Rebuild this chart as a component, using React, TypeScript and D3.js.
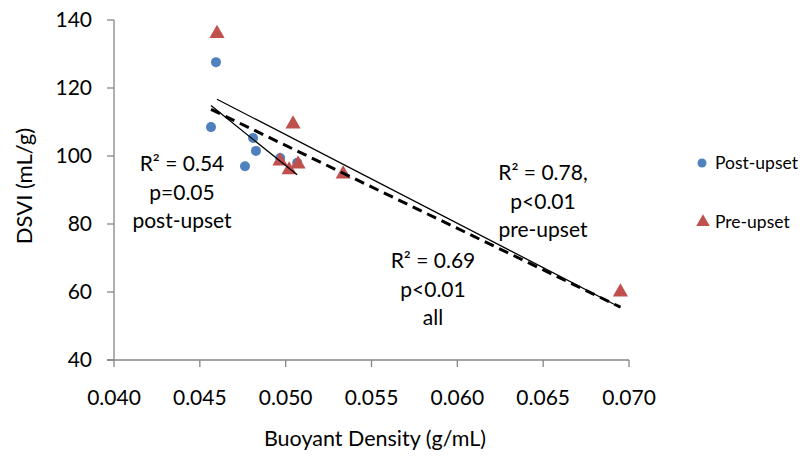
import { useEffect, useRef } from "react"
import * as d3 from 'd3'

// post-upset samples (blue circles)
const postX = [0.04594, 0.04565, 0.0481, 0.04827, 0.04763, 0.04968, 0.05067]
const postY = [127.6, 108.5, 105.3, 101.5, 97.0, 99.4, 98.0]
// pre-upset samples (red triangles)
const preX = [0.0460, 0.04967, 0.0502, 0.05072, 0.05043, 0.05335, 0.0695]
const preY = [136.0, 98.5, 95.9, 97.6, 109.4, 94.7, 60.0]

const xTicks = [0.040, 0.045, 0.050, 0.055, 0.060, 0.065, 0.070]
const yTicks = [40, 60, 80, 100, 120, 140]

const notePost = ["R\u00b2 = 0.54", "p=0.05", "post-upset"]
const notePre = ["R\u00b2 = 0.78,", "p<0.01", "pre-upset"]
const noteAll = ["R\u00b2 = 0.69", "p<0.01", "all"]

const blue = "#4F81BD"
const red = "#C0504D"
const font = "Lato, 'Open Sans', sans-serif"

// least squares line across the series' x range
const fit = (xs: number[], ys: number[]) => {
  const mx = d3.mean(xs) as number
  const my = d3.mean(ys) as number
  const sxy = d3.sum(xs, (x, i) => (x - mx) * (ys[i] - my))
  const sxx = d3.sum(xs, x => (x - mx) * (x - mx))
  const b = sxy / sxx
  const a = my - b * mx
  const [lo, hi] = d3.extent(xs) as [number, number]
  return [[lo, a + b * lo], [hi, a + b * hi]] as [number, number][]
}

export default function App() {
  const svgRef = useRef<SVGSVGElement>(null)

  useEffect(() => {
    document.body.style.margin = "0"
    const svg = d3.select(svgRef.current)
    svg.selectAll('*').remove()

    const xScale = d3.scaleLinear().domain([0.040, 0.070]).range([114, 629])
    const yScale = d3.scaleLinear().domain([40, 140]).range([360, 20])

    // axes
    svg.append("line")
      .attr("x1", xScale(0.040)).attr("x2", xScale(0.040))
      .attr("y1", yScale(140)).attr("y2", yScale(40))
      .attr("stroke", "#868686").attr("stroke-width", 1.3)
    svg.append("line")
      .attr("x1", xScale(0.040) - 7).attr("x2", xScale(0.070))
      .attr("y1", yScale(40)).attr("y2", yScale(40))
      .attr("stroke", "#868686").attr("stroke-width", 1.3)

    svg.selectAll(".yt").data(yTicks).enter().append("line")
      .attr("x1", xScale(0.040) - 7).attr("x2", xScale(0.040))
      .attr("y1", d => yScale(d)).attr("y2", d => yScale(d))
      .attr("stroke", "#868686").attr("stroke-width", 1.3)
    svg.selectAll(".yl").data(yTicks).enter().append("text")
      .attr("x", 92).attr("y", d => yScale(d) + 7)
      .attr("text-anchor", "end")
      .attr("font-family", font).attr("font-size", 21)
      .text(d => d)

    svg.selectAll(".xt").data(xTicks).enter().append("line")
      .attr("x1", d => xScale(d)).attr("x2", d => xScale(d))
      .attr("y1", yScale(40)).attr("y2", yScale(40) + 7)
      .attr("stroke", "#868686").attr("stroke-width", 1.3)
    svg.selectAll(".xl").data(xTicks).enter().append("text")
      .attr("x", d => xScale(d)).attr("y", 405)
      .attr("text-anchor", "middle")
      .attr("font-family", font).attr("font-size", 21)
      .text(d => d3.format(".3f")(d))

    svg.append("text")
      .attr("x", 375).attr("y", 446)
      .attr("text-anchor", "middle")
      .attr("font-family", font).attr("font-size", 21.5)
      .text("Buoyant Density (g/mL)")
    svg.append("text")
      .attr("transform", "translate(32,186) rotate(-90)")
      .attr("text-anchor", "middle")
      .attr("font-family", font).attr("font-size", 22)
      .text("DSVI (mL/g)")

    // markers
    svg.selectAll(".post").data(postX).enter().append("circle")
      .attr("cx", d => xScale(d)).attr("cy", (d, i) => yScale(postY[i]))
      .attr("r", 5).attr("fill", blue)
    const tri = d3.symbol().type(d3.symbolTriangle).size(100)
    svg.selectAll(".pre").data(preX).enter().append("path")
      .attr("d", tri)
      .attr("transform", (d, i) => `translate(${xScale(d)},${yScale(preY[i])})`)
      .attr("fill", red)

    // trendlines
    const line = d3.line<[number, number]>()
      .x(d => xScale(d[0])).y(d => yScale(d[1]))
    svg.append("path").attr("d", line(fit(postX, postY)))
      .attr("stroke", "#000").attr("stroke-width", 1.3).attr("fill", "none")
    svg.append("path").attr("d", line(fit(preX, preY)))
      .attr("stroke", "#000").attr("stroke-width", 1.3).attr("fill", "none")
    svg.append("path").attr("d", line(fit(postX.concat(preX), postY.concat(preY))))
      .attr("stroke", "#000").attr("stroke-width", 3).attr("fill", "none")
      .attr("stroke-dasharray", "10,6")

    // annotations
    const note = (lines: string[], x: number, y: number) => {
      lines.forEach((t, i) => {
        svg.append("text")
          .attr("x", x).attr("y", y + i * 28.5)
          .attr("text-anchor", "middle")
          .attr("font-family", font).attr("font-size", 21)
          .text(t)
      })
    }
    note(notePost, 182, 171)
    note(notePre, 543, 180)
    note(noteAll, 433, 268)

    // legend
    svg.append("circle").attr("cx", 702).attr("cy", 163).attr("r", 4.5).attr("fill", blue)
    svg.append("path").attr("d", d3.symbol().type(d3.symbolTriangle).size(80))
      .attr("transform", "translate(703,222)").attr("fill", red)
    svg.append("text").attr("x", 715).attr("y", 169)
      .attr("font-family", font).attr("font-size", 17.5).text("Post-upset")
    svg.append("text").attr("x", 715).attr("y", 227.5)
      .attr("font-family", font).attr("font-size", 17.5).text("Pre-upset")
  }, [])

  return (
    <svg ref={svgRef} width="802" height="459" style={{ display: "block", background: "#fff" }}></svg>
  )
}
